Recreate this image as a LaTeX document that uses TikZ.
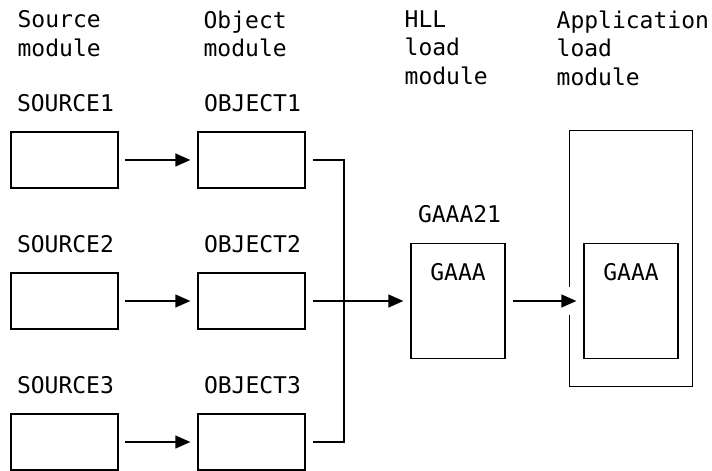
\documentclass[tikz,border=0pt]{standalone}
\usepackage{fontspec}
\setmonofont{DejaVu Sans Mono}
\usetikzlibrary{arrows.meta}
\usetikzlibrary{positioning, calc}
\definecolor{lkblack}{HTML}{000000}

\begin{document}
\begin{tikzpicture}[
    x=1pt, y=1pt,
    line width=1.3pt,
    box/.style={draw=lkblack, minimum width=107pt, minimum height=56pt,
                inner sep=0pt},
    loadbox/.style={draw=lkblack, minimum width=94pt, minimum height=115pt,
                    inner sep=0pt},
    txt/.style={text=lkblack, inner sep=0pt,
                font=\ttfamily\fontsize{23}{28.5}\selectfont},
    hdr/.style={txt, align=left, anchor=north west},
    arr/.style={lkblack, -{Triangle[length=15pt, width=13pt]}},
  ]
  \useasboundingbox (0,0) rectangle (712,471);

  % ---- column headers ----
  \node[hdr] (hsrc) at (17,461)  {Source\\module};
  \node[hdr] (hobj) at (203,461) {Object\\module};
  \node[hdr] (hhll) at (404,461) {HLL\\load\\module};
  \node[hdr] (happ) at (556,461) {Application\\load\\module};

  % ---- source and object modules ----
  \foreach \n/\y in {1/311, 2/170, 3/29} {
    \node[box] (src\n) at (64.5,\y) {};
    \node[box] (obj\n) at (251.5,\y) {};
    \node[txt, above=20pt of src\n.north west, anchor=base west,
          xshift=6pt] {SOURCE\n};
    \node[txt, above=20pt of obj\n.north west, anchor=base west,
          xshift=6pt] {OBJECT\n};
    \draw[arr] ([xshift=6pt]src\n.east) -- ([xshift=-7pt]obj\n.west);
  }

  % ---- HLL load module ----
  \node[loadbox] (hll) at (458,170) {};
  \node[txt, above=20pt of hll.north west, anchor=base west,
        xshift=7pt] {GAAA21};
  \node[txt, anchor=base] at ([yshift=-37.5pt]hll.north) {GAAA};

  % ---- application load module ----
  \node[minimum width=122pt, minimum height=255pt, inner sep=0pt]
    (app) at (631,212.5) {};
  \node[loadbox] (inner) at (631,170) {};
  \node[txt, anchor=base] at ([yshift=-37.5pt]inner.north) {GAAA};
  \coordinate (gap) at (app.west |- inner.west);
  \draw[lkblack] ([yshift=14pt]gap) -- (app.north west) -- (app.north east)
    -- (app.south east) -- (app.south west) -- ([yshift=-14pt]gap);

  % ---- connectors ----
  \coordinate (bus) at (344,0);
  \draw[lkblack] ([xshift=7pt]obj1.east) -| (bus |- obj3.east)
    -- ([xshift=7pt]obj3.east);
  \draw[arr] ([xshift=7pt]obj2.east) -- ([xshift=-7pt]hll.west);
  \draw[arr] ([xshift=7pt]hll.east) -- ([xshift=-7pt]inner.west);
\end{tikzpicture}
\end{document}
